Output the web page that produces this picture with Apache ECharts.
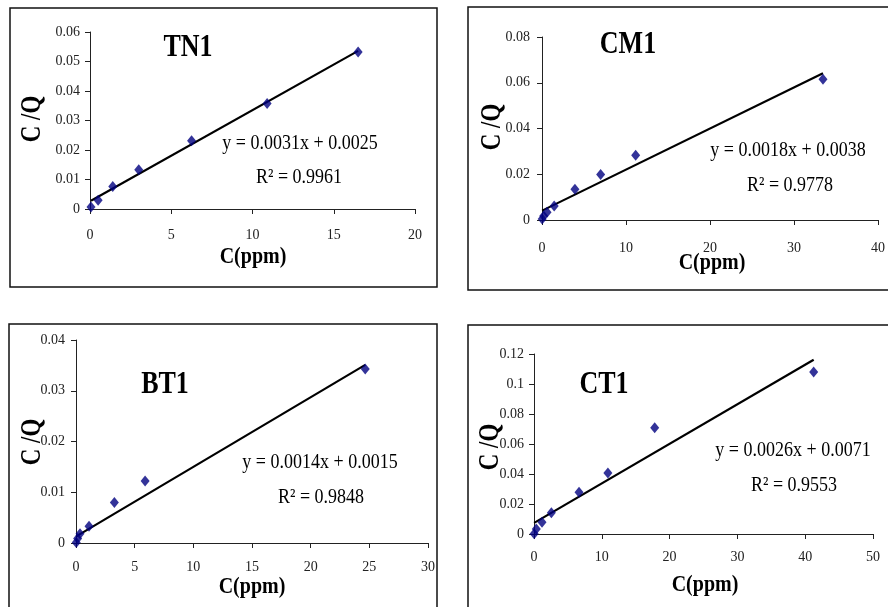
<!DOCTYPE html>
<html><head><meta charset="utf-8">
<script src="https://cdn.jsdelivr.net/npm/echarts@6/dist/echarts.min.js"></script>
<style>html,body{margin:0;padding:0;background:#fff}#c{width:888px;height:607px}</style>
</head><body><div id="c"></div>
<script>
// ---- data ----
const panelNames = ['TN1', 'CM1', 'BT1', 'CT1'];
const equations = ['y = 0.0031x + 0.0025', 'y = 0.0018x + 0.0038', 'y = 0.0014x + 0.0015', 'y = 0.0026x + 0.0071'];
const rSquared = ['R² = 0.9961', 'R² = 0.9778', 'R² = 0.9848', 'R² = 0.9553'];
const xTitle = 'C(ppm)';
const yTitle = 'C /Q';

const tnX = [0.06, 0.5, 1.4, 3.0, 6.25, 10.9, 16.5];
const tnY = [0.0007, 0.003, 0.0076, 0.0133, 0.0231, 0.0358, 0.0532];
const tnLineX = [0.06, 16.5];
const tnLineY = [0.0028, 0.0536];

const cmX = [0.02, 0.2, 0.6, 1.45, 3.92, 6.98, 11.15, 33.45];
const cmY = [0.0004, 0.0018, 0.0034, 0.0061, 0.0134, 0.0199, 0.0283, 0.0615];
const cmLineX = [0.02, 33.45];
const cmLineY = [0.0041, 0.0642];

const btX = [0.02, 0.14, 0.34, 1.11, 3.27, 5.89, 24.65];
const btY = [0.0001, 0.0009, 0.0018, 0.0033, 0.008, 0.0122, 0.0343];
const btLineX = [0.02, 24.65];
const btLineY = [0.0013, 0.0351];

const ctX = [0.02, 0.34, 1.18, 2.56, 6.64, 10.9, 17.8, 41.25];
const ctY = [0.0002, 0.0033, 0.0078, 0.0141, 0.0279, 0.0406, 0.0709, 0.108];
const ctLineX = [0.02, 41.25];
const ctLineY = [0.0074, 0.1162];

const xMax = [20, 40, 30, 50];
const xStep = [5, 10, 5, 10];
const yMax = [0.06, 0.08, 0.04, 0.12];
const yStep = [0.01, 0.02, 0.01, 0.02];

// ---- layout ----
const grids = [
  {left: 90, top: 32, width: 325, height: 177},
  {left: 542, top: 37, width: 340, height: 183},
  {left: 76, top: 340, width: 352, height: 203},
  {left: 534, top: 354, width: 339, height: 180}
];
const xLabelMargin = [19, 21, 17, 16];
const yLabelMargin = [10, 12, 11, 10];
const boxes = [
  {x: 10, y: 8, w: 427, h: 279},
  {x: 468, y: 7, w: 440, h: 283},
  {x: 9, y: 324, w: 428, h: 300},
  {x: 468, y: 325, w: 440, h: 300}
];
const titlePos = [[188, 48], [628, 45], [165, 385], [604, 385]];
const eqPos = [[300, 143], [788, 150], [320, 462], [793, 450]];
const r2Pos = [[299, 177], [790, 185], [321, 497], [794, 485]];
const yTitlePos = [[33, 119], [493, 127], [33, 442], [491, 447]];
const xTitlePos = [[253, 257], [712, 263], [252, 587], [705, 585]];

const pts = [[tnX, tnY], [cmX, cmY], [btX, btY], [ctX, ctY]];
const lines = [[tnLineX, tnLineY], [cmLineX, cmLineY], [btLineX, btLineY], [ctLineX, ctLineY]];
const zip = (a, b) => a.map((v, i) => [v, b[i]]);

const serif = '"Liberation Serif", "Times New Roman", serif';
const axisColor = '#222';

const option = {
  backgroundColor: '#fff',
  animation: false,
  grid: grids.map(g => Object.assign({containLabel: false}, g)),
  xAxis: grids.map((g, i) => ({
    type: 'value', gridIndex: i, min: 0, max: xMax[i], interval: xStep[i],
    axisLine: {show: true, onZero: false, lineStyle: {color: axisColor, width: 1}},
    axisTick: {show: true, length: 5, inside: false, lineStyle: {color: axisColor}},
    axisLabel: {fontFamily: serif, fontSize: 14, color: '#222', margin: xLabelMargin[i]},
    splitLine: {show: false}
  })),
  yAxis: grids.map((g, i) => ({
    type: 'value', gridIndex: i, min: 0, max: yMax[i], interval: yStep[i],
    axisLine: {show: true, onZero: false, lineStyle: {color: axisColor, width: 1}},
    axisTick: {show: true, length: 5, inside: false, lineStyle: {color: axisColor}},
    axisLabel: {fontFamily: serif, fontSize: 14, color: '#222', margin: yLabelMargin[i],
      formatter: v => String(+v.toFixed(4))},
    splitLine: {show: false}
  })),
  series: [],
  graphic: []
};

pts.forEach((p, i) => {
  option.series.push({
    type: 'line', xAxisIndex: i, yAxisIndex: i, data: zip(lines[i][0], lines[i][1]),
    symbol: 'none', lineStyle: {color: '#000', width: 2.2}, z: 2, silent: true
  });
  option.series.push({
    type: 'scatter', xAxisIndex: i, yAxisIndex: i, data: zip(p[0], p[1]),
    symbol: 'diamond', symbolSize: [9, 11], itemStyle: {color: '#000080'}, z: 3
  });
});

const txt = (x, y, text, size, bold, extra) => Object.assign({
  type: 'text', x: x, y: y, z: 10,
  style: {text: text, fontFamily: serif, fontSize: size, fontWeight: bold ? 'bold' : 'normal',
    fill: '#000', textAlign: 'center', textVerticalAlign: 'middle'}
}, extra || {});

boxes.forEach((b, i) => {
  option.graphic.push({type: 'rect', shape: {x: b.x, y: b.y, width: b.w, height: b.h},
    style: {fill: 'none', stroke: '#111', lineWidth: 1.5}, z: 1, silent: true});
  option.graphic.push(txt(titlePos[i][0], titlePos[i][1], panelNames[i], 26, true, {scaleY: 1.2}));
  option.graphic.push(txt(eqPos[i][0], eqPos[i][1], equations[i], 18, false, {scaleY: 1.2}));
  option.graphic.push(txt(r2Pos[i][0], r2Pos[i][1], rSquared[i], 18, false, {scaleY: 1.2}));
  option.graphic.push(txt(yTitlePos[i][0], yTitlePos[i][1], yTitle, 23, true, {rotation: Math.PI / 2, scaleY: 1.25}));
  option.graphic.push(txt(xTitlePos[i][0], xTitlePos[i][1], xTitle, 20, true, {scaleY: 1.2}));
});

const chart = echarts.init(document.getElementById('c'), null, {renderer: 'canvas'});
chart.setOption(option);
</script>
</body></html>
